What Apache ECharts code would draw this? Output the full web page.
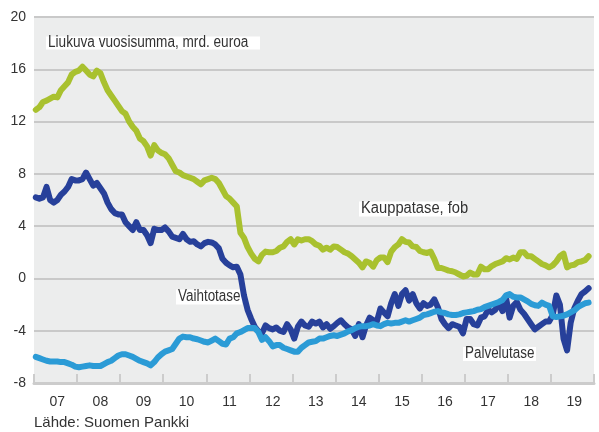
<!DOCTYPE html>
<html>
<head>
<meta charset="utf-8">
<script src="https://cdn.jsdelivr.net/npm/echarts@6/dist/echarts.min.js"></script>
<style>
  html, body { margin: 0; padding: 0; background: #ffffff; }
  #chart { width: 599px; height: 432px; }
</style>
</head>
<body>
<div id="chart"></div>
<script>
// Year tick labels (2007–2019); data are monthly, Jan 2007 – Nov 2019
const yearLabels = ['07', '08', '09', '10', '11', '12', '13', '14', '15', '16', '17', '18', '19'];

// Kauppatase, fob (rolling 12-month sum, bn EUR)
const kauppatase = [
  12.9, 13.1, 13.5, 13.6, 13.75, 13.9, 13.85, 14.4, 14.7, 15.0, 15.6, 15.8,
  15.9, 16.2, 15.9, 15.6, 15.45, 15.9, 15.7, 15.0, 14.4, 14.0, 13.6, 13.2,
  12.8, 12.6, 12.0, 11.6, 11.3, 10.7, 10.5, 10.1, 9.4, 10.2, 9.8, 9.6,
  9.5, 9.2, 8.7, 8.2, 8.1, 7.9, 7.8, 7.7, 7.6, 7.4, 7.2, 7.5,
  7.6, 7.7, 7.6, 7.3, 6.8, 6.3, 6.1, 5.8, 5.5, 3.5, 3.1, 2.4,
  1.9, 1.5, 1.3, 1.8, 2.05, 2.0, 2.0, 2.1, 2.35, 2.45, 2.8, 3.0,
  2.6, 3.0, 2.9, 3.0, 3.0, 2.85, 2.6, 2.5, 2.2, 2.35, 2.2, 2.45,
  2.4, 2.2, 2.0, 1.9, 1.7, 1.45, 1.2, 0.85, 1.3, 1.2, 0.9, 1.4,
  1.6, 1.6, 1.25, 2.05, 2.4, 2.6, 3.0, 2.8, 2.75, 2.45, 2.4, 2.1,
  2.0, 1.95, 2.05, 1.5, 0.8, 0.8, 0.7, 0.6, 0.55, 0.45, 0.3, 0.15,
  0.2, 0.45, 0.3, 0.3, 0.9, 0.7, 0.7, 0.95, 1.1, 1.2, 1.3, 1.55,
  1.45, 1.6, 1.5, 2.0, 2.0, 1.7, 1.7, 1.5, 1.3, 1.1, 1.0, 0.85,
  1.0, 1.3, 1.7, 1.9, 0.85, 1.0, 1.05, 1.25, 1.3, 1.4, 1.7
];

// Vaihtotase (current account)
const vaihtotase = [
  6.2, 6.1, 6.2, 7.0, 6.0, 5.8, 6.0, 6.4, 6.65, 7.0, 7.6, 7.5,
  7.5, 7.6, 8.1, 7.6, 7.1, 7.3, 6.9, 6.5, 5.8, 5.3, 5.0, 4.9,
  4.9, 4.3, 4.0, 3.7, 4.3, 3.7, 3.7, 3.3, 2.7, 3.8, 3.7, 3.7,
  3.9, 3.6, 3.2, 3.1, 3.0, 3.4, 3.0, 2.8, 2.85, 2.6, 2.45, 2.7,
  2.8, 2.75, 2.6, 2.3, 1.5, 1.2, 1.0, 0.85, 0.9, 0.3, -1.3, -2.4,
  -3.1, -3.7, -4.05, -4.2, -3.6, -3.8, -3.9, -3.75, -4.0, -4.1, -3.5, -3.9,
  -4.6, -3.7, -3.3, -3.6, -3.7, -3.3, -3.45, -3.3, -3.75, -3.5, -3.85, -3.65,
  -3.4, -3.2, -3.5, -3.75, -3.9, -4.4, -3.5, -4.5, -3.6, -3.0, -3.2, -3.3,
  -2.3, -2.6, -2.9, -1.9, -1.2, -2.1, -1.2, -0.9, -1.7, -1.2, -1.9, -2.3,
  -1.9, -2.1, -2.0, -1.6, -2.2, -3.1, -3.5, -3.8, -3.5, -3.6, -3.7, -4.2,
  -3.1, -3.1, -3.5, -3.6, -3.0, -2.9, -2.4, -2.6, -2.4, -1.9, -2.5, -1.5,
  -3.0, -2.1, -1.8, -2.4, -2.7, -3.1, -3.5, -3.9, -3.7, -3.5, -3.3, -3.3,
  -2.8, -1.3, -2.0, -4.6, -5.5, -3.4, -2.3, -1.7, -1.2, -1.0, -0.75
];

// Palvelutase (services balance)
const palvelutase = [
  -6.0, -6.1, -6.2, -6.3, -6.35, -6.35, -6.35, -6.4, -6.4, -6.5, -6.6, -6.75,
  -6.8, -6.75, -6.7, -6.65, -6.7, -6.7, -6.7, -6.55, -6.4, -6.3, -6.1, -5.9,
  -5.8, -5.8, -5.9, -6.0, -6.15, -6.3, -6.4, -6.5, -6.65, -6.4, -6.05, -5.8,
  -5.6, -5.5, -5.4, -5.0, -4.6, -4.45, -4.5, -4.5, -4.6, -4.65, -4.75, -4.85,
  -4.9, -4.75, -4.6, -4.8, -5.0, -5.05, -4.6, -4.5, -4.2, -4.1, -3.95, -3.8,
  -3.8, -3.8, -4.1, -4.7, -4.5, -4.8, -5.2, -5.1, -5.1, -5.3, -5.4, -5.5,
  -5.6, -5.6, -5.3, -5.1, -4.9, -4.85, -4.8, -4.6, -4.6, -4.5, -4.4, -4.35,
  -4.4, -4.3, -4.2, -4.05, -3.95, -3.8, -3.7, -3.65, -3.65, -3.6, -3.5, -3.6,
  -3.65, -3.5, -3.4, -3.45, -3.4, -3.4, -3.3, -3.2, -3.3, -3.2, -3.1, -3.0,
  -2.8, -2.75, -2.65, -2.55, -2.5, -2.6, -2.65, -2.75, -2.8, -2.8, -2.75, -2.65,
  -2.6, -2.55, -2.5, -2.4, -2.35, -2.2, -2.1, -2.0, -1.9, -1.8, -1.65, -1.3,
  -1.2, -1.4, -1.45, -1.45, -1.6, -1.75, -1.95, -2.05, -2.1, -1.85, -2.0, -2.1,
  -2.9, -2.95, -2.9, -2.85, -2.75, -2.6, -2.45, -2.2, -2.05, -1.9, -1.85
];

// Monthly category axis: 12 slots per year label
const months = [];
yearLabels.forEach(function (y) {
  for (let m = 1; m <= 12; m++) months.push('20' + y + '-' + (m < 10 ? '0' : '') + m);
});

const textColor = '#333333';
const fontFamily = '"Liberation Sans", Arial, sans-serif';
const chart = echarts.init(document.getElementById('chart'), null, { renderer: 'canvas' });

function lineSeries(name, data, color, z) {
  return {
    name: name,
    type: 'line',
    data: data,
    showSymbol: false,
    symbol: 'none',
    smooth: false,
    z: z,
    lineStyle: { color: color, width: 6, cap: 'round', join: 'round' },
    emphasis: { disabled: true }
  };
}

// Annotation box with white background behind a slightly condensed text
function note(x, y, w, h, text, sx) {
  return {
    type: 'group',
    left: x, top: y,
    children: [
      { type: 'rect', shape: { x: 0, y: 0, width: w, height: h }, style: { fill: '#ffffff' } },
      {
        type: 'text', x: 2, y: h / 2, scaleX: sx,
        style: { text: text, fill: textColor, font: '16px ' + fontFamily, verticalAlign: 'middle' }
      }
    ]
  };
}

chart.setOption({
  animation: false,
  backgroundColor: '#ffffff',
  grid: { left: 34, right: 5, top: 17, bottom: 49, show: true, backgroundColor: '#eceded', borderWidth: 0 },
  xAxis: {
    type: 'category',
    data: months,
    boundaryGap: true,
    axisLine: { show: true, onZero: false, lineStyle: { color: '#cccccc', width: 3 } },
    axisTick: {
      show: true, inside: true, length: 9,
      interval: function (idx) { return idx % 12 === 0; },
      lineStyle: { color: '#cccccc', width: 2 }
    },
    axisLabel: {
      interval: function (idx) { return idx % 12 === 6; },
      formatter: function (v) { return v.slice(2, 4); },
      color: textColor, fontSize: 14, margin: 12, fontFamily: fontFamily
    },
    splitLine: { show: false }
  },
  yAxis: {
    type: 'value',
    min: -8, max: 20, interval: 4,
    axisLine: { show: false },
    axisTick: { show: false },
    axisLabel: { color: textColor, fontSize: 14, margin: 8, fontFamily: fontFamily },
    splitLine: { lineStyle: { color: '#c9c9c9', width: 2 } }
  },
  series: [
    lineSeries('Kauppatase, fob', kauppatase, '#a9c12f', 2),
    lineSeries('Vaihtotase', vaihtotase, '#27409a', 3),
    lineSeries('Palvelutase', palvelutase, '#2b9bd6', 4)
  ],
  graphic: [
    note(46, 35, 214, 13, 'Liukuva vuosisumma, mrd. euroa', 0.85),
    note(359, 201, 102, 15, 'Kauppatase, fob', 0.92),
    note(176, 289, 66, 15, 'Vaihtotase', 0.84),
    note(463, 346, 73, 14, 'Palvelutase', 0.84),
    { type: 'text', left: 34, top: 415, style: { text: 'Lähde: Suomen Pankki', fill: textColor, font: '15px ' + fontFamily } }
  ]
});
</script>
</body>
</html>
